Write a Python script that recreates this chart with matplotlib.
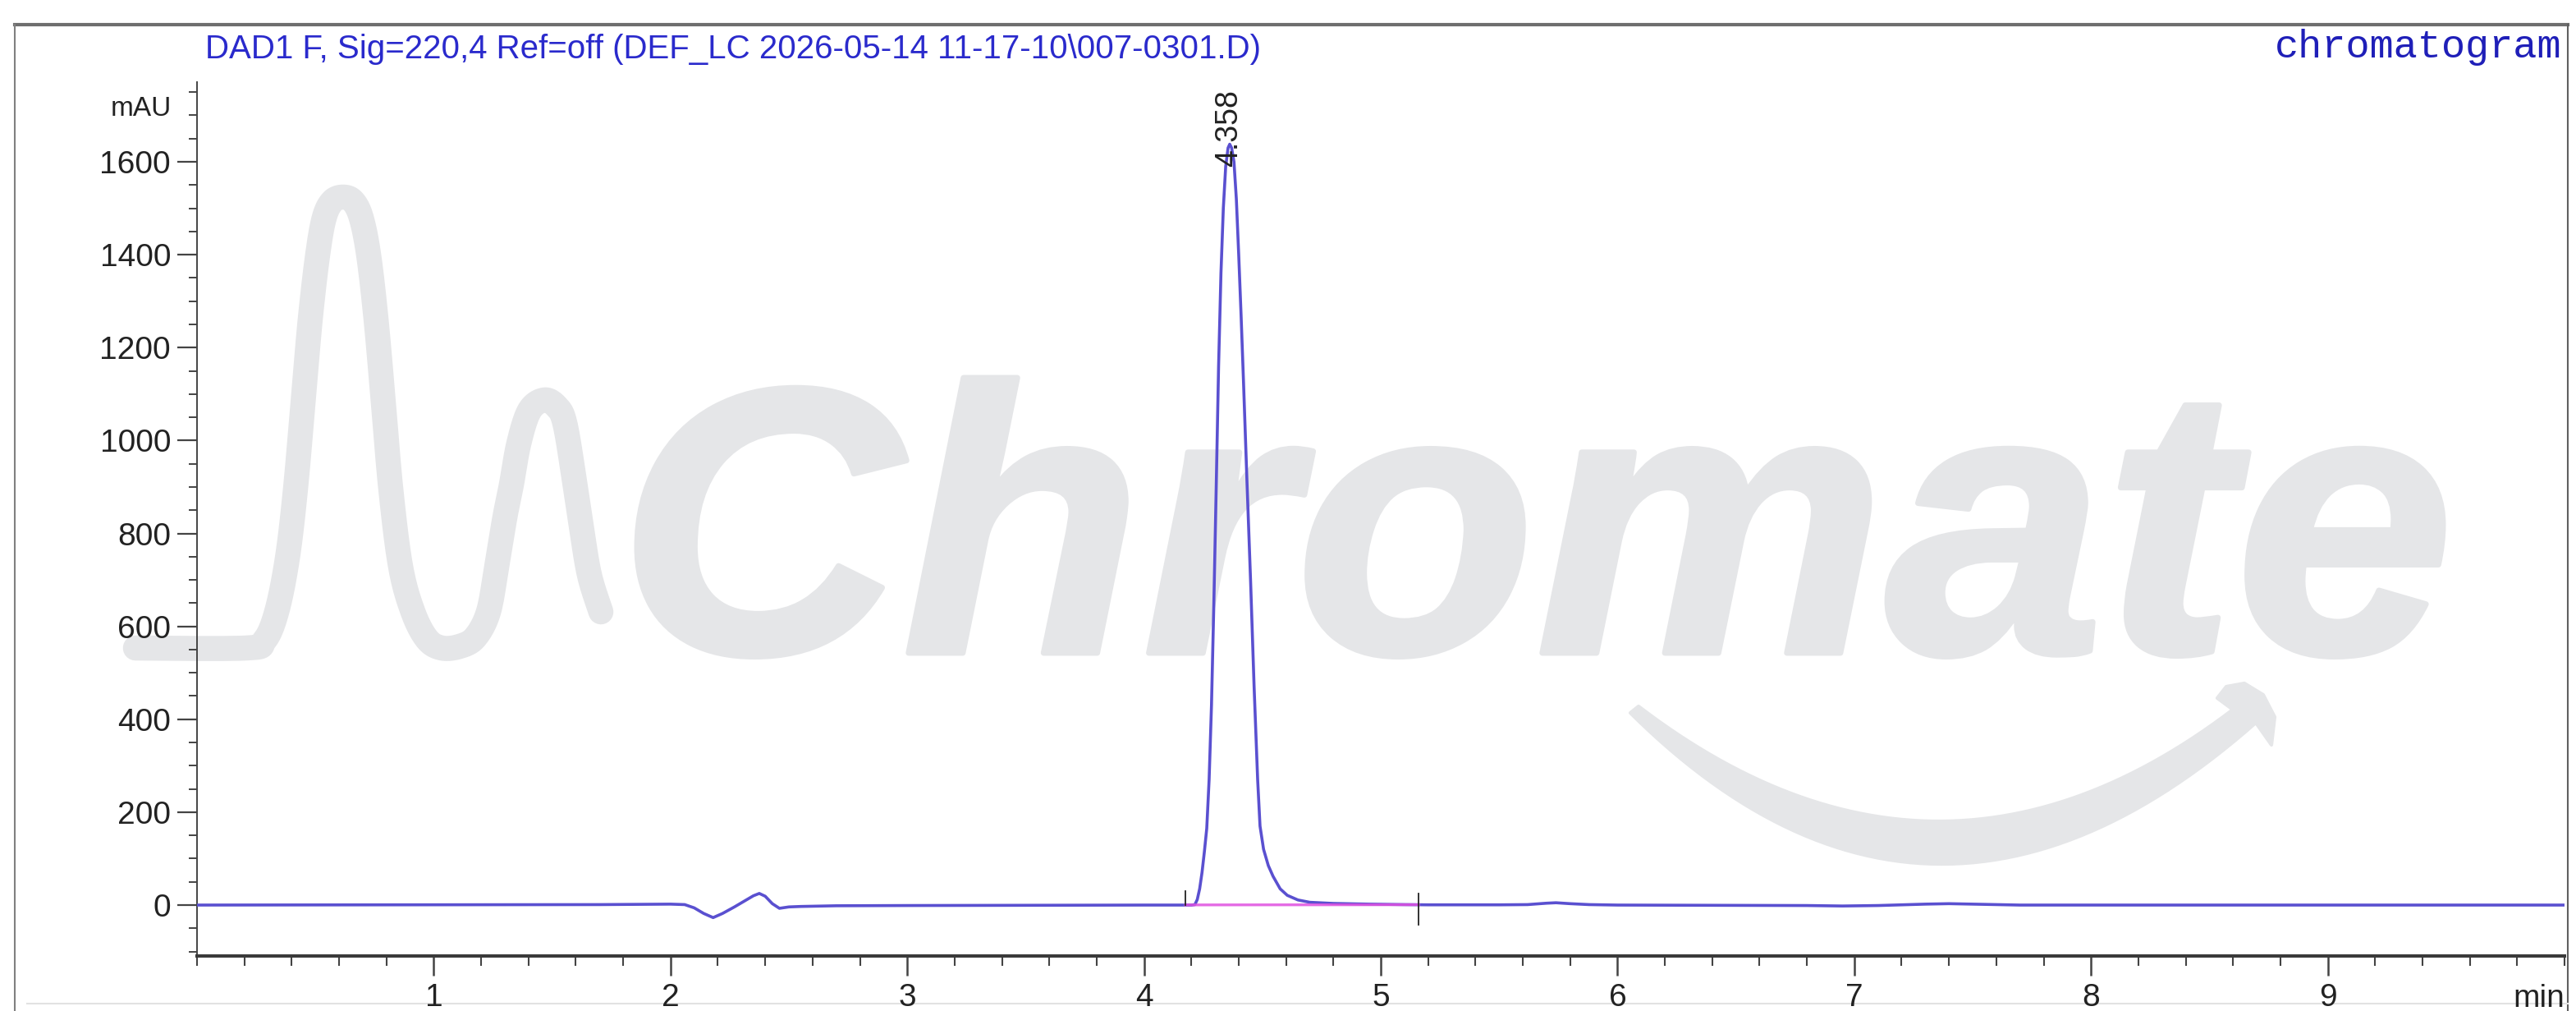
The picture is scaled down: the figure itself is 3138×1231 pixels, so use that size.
import numpy as np
import matplotlib
matplotlib.use('Agg')
import matplotlib.pyplot as plt
from matplotlib.patches import PathPatch, Polygon
from matplotlib.textpath import TextPath
from matplotlib.font_manager import FontProperties
from matplotlib.transforms import Affine2D
from matplotlib.ticker import MultipleLocator

plt.rcParams['font.family'] = ['Liberation Sans', 'DejaVu Sans']

# chromatogram trace (min, mAU)
time = [0.0, 1.70, 2.00, 2.06, 2.10, 2.14, 2.18, 2.22, 2.27, 2.31, 2.35, 2.375, 2.40,
        2.43, 2.46, 2.50, 2.55, 2.70, 3.00, 3.50, 4.00, 4.175,
        4.200, 4.215, 4.225, 4.235, 4.245, 4.255, 4.265, 4.275, 4.285, 4.295,
        4.305, 4.315, 4.325, 4.335, 4.345, 4.355, 4.362, 4.370, 4.380, 4.390,
        4.400, 4.410, 4.420, 4.435, 4.450, 4.465, 4.480, 4.490, 4.505, 4.525,
        4.545, 4.575, 4.605, 4.650, 4.700, 4.800, 4.950, 5.100, 5.200,
        5.50, 5.62, 5.70, 5.74, 5.80, 5.88, 6.00, 6.80, 6.95, 7.10, 7.30,
        7.40, 7.50, 7.70, 10.0]
signal = [0, 1, 2, 1, -6, -18, -27, -18, -4, 8, 20, 25, 19,
          3, -7, -4, -3, -1.5, -1, -0.5, 0, 0,
          0, 1, 12, 35, 70, 115, 165, 270, 430, 650,
          900, 1160, 1360, 1500, 1590, 1630, 1638, 1630, 1600, 1520,
          1400, 1270, 1130, 910, 700, 470, 270, 170, 120, 85,
          62, 35, 21, 11, 6, 3.5, 2, 1, 0.5,
          0.5, 1, 4, 5, 3, 1, 0, -1, -2, -1, 2,
          3, 2, 0, 0]

# integration events
peak_rt = 4.358
peak_label_y = 1590
bl_time = [4.175, 5.16]
bl_signal = [0.3, 0.8]

title = r"DAD1 F, Sig=220,4 Ref=off (DEF_LC 2026-05-14 11-17-10\007-0301.D)"
y_major = np.arange(0, 1601, 200)
x_major = np.arange(1, 10)

W, H, DPI = 3138, 1231, 100
fig = plt.figure(figsize=(W / DPI, H / DPI), dpi=DPI)
fig.patch.set_facecolor('white')

# background layer in pixel coordinates: frame + watermark
bg = fig.add_axes([0, 0, 1, 1], zorder=0)
bg.set_xlim(0, W)
bg.set_ylim(H, 0)
bg.axis('off')

wm = '#e5e6e8'


def catmull(px, py, n=12):
    p = np.column_stack([px, py]).astype(float)
    p = np.vstack([p[0], p, p[-1]])
    out = []
    for i in range(1, len(p) - 2):
        p0, p1, p2, p3 = p[i - 1], p[i], p[i + 1], p[i + 2]
        for t in np.linspace(0, 1, n, endpoint=False):
            out.append(0.5 * (2 * p1 + (p2 - p0) * t + (2 * p0 - 5 * p1 + 4 * p2 - p3) * t ** 2
                              + (3 * p1 - p0 - 3 * p2 + p3) * t ** 3))
    out.append(p[-2])
    return np.array(out)


sq_x = [165, 300, 322, 337, 350, 360, 370, 378, 387, 395, 405, 418, 430, 440, 449,
        458, 467, 476, 488, 503, 520, 538, 560, 579, 595, 605, 615, 623, 632, 645,
        663, 678, 688, 699, 708, 718, 732]
sq_y = [789, 789, 780, 745, 680, 595, 480, 388, 310, 265, 245, 240, 245, 265, 310,
        388, 490, 595, 690, 745, 778, 789, 787, 776, 745, 690, 630, 590, 540, 500,
        487, 495, 515, 580, 640, 700, 745]
sq = catmull(sq_x, sq_y)
bg.plot(sq[:, 0], sq[:, 1], color=wm, lw=22, solid_capstyle='round', solid_joinstyle='round')

fp = FontProperties(family='Liberation Sans', weight='bold', style='italic')
tp = TextPath((0, 0), 'Chromate', size=1, prop=fp)
ext = tp.get_extents()
sx = (2976 - 776) / ext.width
sy = (795 - 460) / ext.y1
tr = Affine2D().translate(-ext.x0, 0).scale(sx, -sy).translate(776, 795)
bg.add_patch(PathPatch(tr.transform_path(tp), facecolor=wm, edgecolor=wm, lw=5,
                       joinstyle='round'))


def qbez(p0, c, p2, n=60):
    t = np.linspace(0, 1, n)[:, None]
    return (1 - t) ** 2 * np.array(p0) + 2 * (1 - t) * t * np.array(c) + t ** 2 * np.array(p2)


outer = qbez((1986, 868), (2351, 1230), (2748, 880))
inner = qbez((1996, 860), (2360, 1138), (2720, 864))[::-1]
head = np.array([[2767, 907], [2771, 873], [2757, 846], [2734, 832], [2712, 836], [2701, 850]])
smile = np.vstack([outer, head, inner])
bg.add_patch(Polygon(smile, closed=True, facecolor=wm, edgecolor=wm, lw=3, joinstyle='round'))

# outer frame
bg.plot([18, 3128], [30, 30], color='#6e6e6e', lw=3)
bg.plot([18, 18], [30, H], color='#808080', lw=1.5)
bg.plot([3128, 3128], [30, H], color='#606060', lw=1.5)
bg.plot([33, 3128], [1222, 1222], color='#e2e2e2', lw=1.5)

# header texts
fig.text(250 / W, 1 - 60 / H, title, color='#2a2acc', fontsize=29, ha='left', va='center')
fig.text(3120 / W, 1 - 58 / H, 'chromatogram', color='#1f1fb8', fontsize=35,
         family=['Liberation Mono', 'DejaVu Sans Mono'], ha='right', va='center')

# main plot
ax = fig.add_axes([240 / W, 1 - 1164 / H, (3124 - 240) / W, (1164 - 100) / H], zorder=1)
ax.patch.set_alpha(0)
ax.set_xlim(0, 10)
ax.set_ylim(-109.6, 1771.6)

ax.plot(time, signal, color='#5a50d0', lw=2.6, solid_joinstyle='round', zorder=3)
ax.plot(bl_time, bl_signal, color='#e050e0', lw=2.4, alpha=0.85, zorder=4)
ax.plot([bl_time[0]] * 2, [0, 30], color='#222222', lw=1.3, zorder=5)
ax.plot([bl_time[1]] * 2, [25, -42], color='#222222', lw=1.3, zorder=5)
ax.text(peak_rt, peak_label_y, f'{peak_rt:.3f}', rotation=90, ha='center', va='bottom',
        fontsize=27, color='#222222', zorder=6)

for s in ['top', 'right']:
    ax.spines[s].set_visible(False)
ax.spines['bottom'].set_linewidth(2.9)
ax.spines['bottom'].set_color('#3a3a3a')
ax.spines['left'].set_linewidth(1.4)
ax.spines['left'].set_color('#444444')

ax.set_yticks(y_major)
ax.set_yticklabels([str(v) for v in y_major])
ax.yaxis.set_minor_locator(MultipleLocator(50))
ax.set_xticks(x_major)
ax.set_xticklabels([str(v) for v in x_major])
ax.xaxis.set_minor_locator(MultipleLocator(0.2))

ax.tick_params(axis='y', which='major', length=17, width=1.6, pad=6, labelsize=28,
               colors='#444444', labelcolor='#222222', direction='out')
ax.tick_params(axis='y', which='minor', length=7.5, width=1.4, colors='#444444', direction='out')
ax.tick_params(axis='x', which='major', length=17, width=1.8, pad=7, labelsize=28,
               colors='#444444', labelcolor='#222222', direction='out')
ax.tick_params(axis='x', which='minor', length=8.5, width=1.5, colors='#444444', direction='out')

ax.annotate('mAU', xy=(0, 1715), xycoords=('axes fraction', 'data'), xytext=(-22, 0),
            textcoords='offset points', ha='right', va='center', fontsize=24, color='#222222')
ax.annotate('min', xy=(10, 0), xycoords=('data', 'axes fraction'), xytext=(0, -24.5),
            textcoords='offset points', ha='right', va='top', fontsize=28, color='#222222')

fig.savefig('out.png', dpi=DPI)
